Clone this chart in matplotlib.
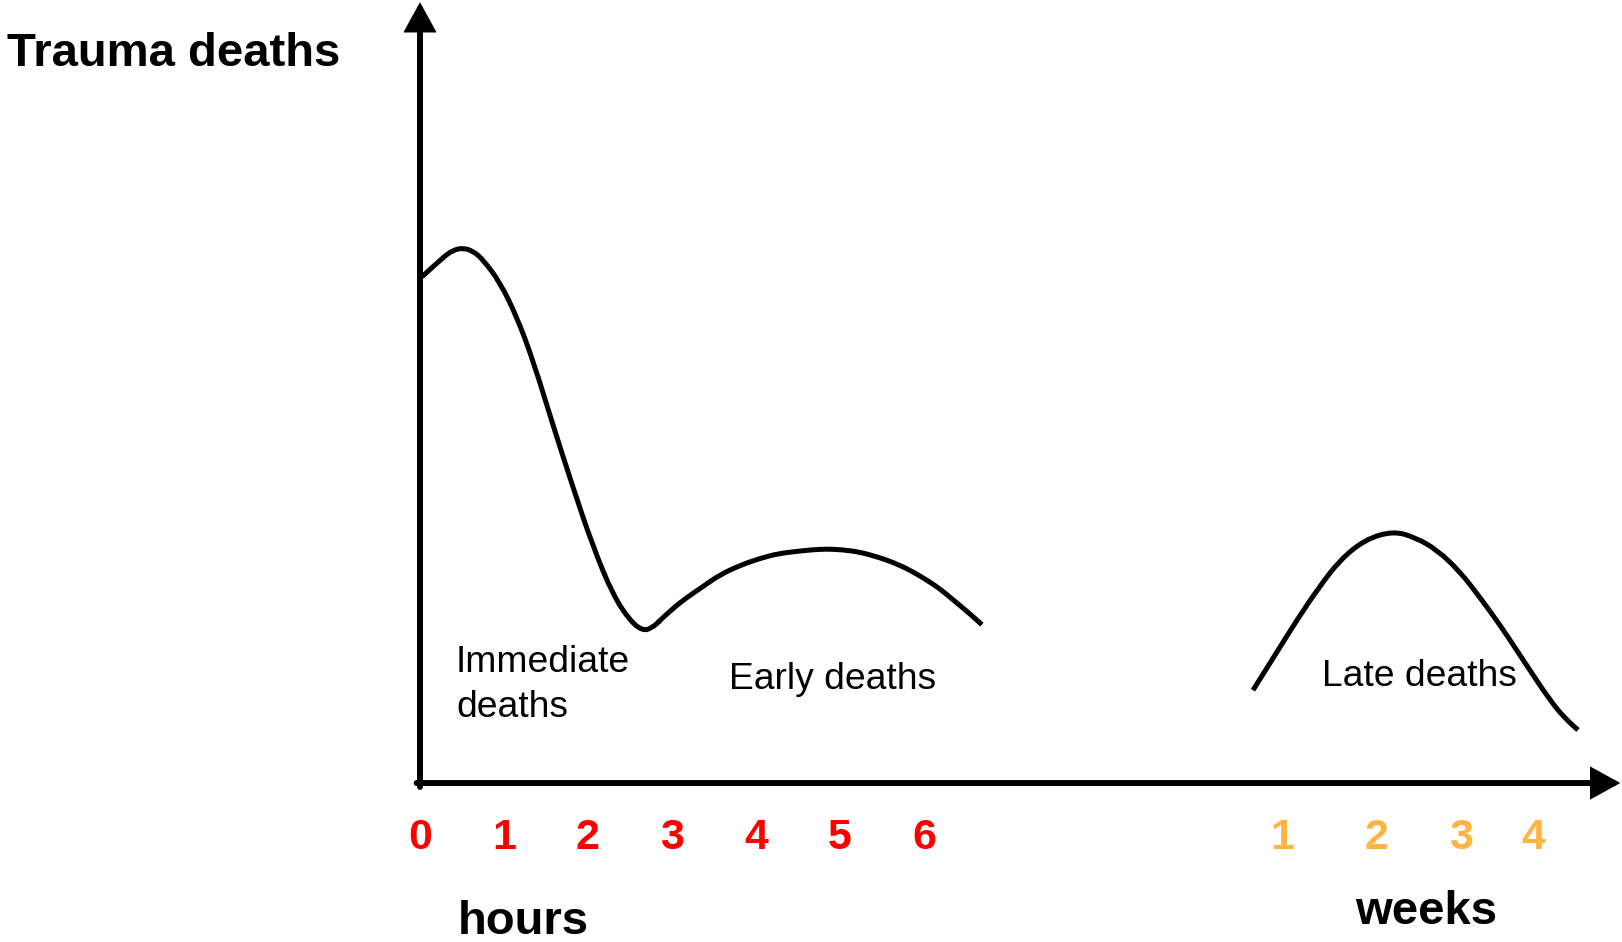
import matplotlib.pyplot as plt
from matplotlib.path import Path
from matplotlib.patches import PathPatch

plt.rcParams['font.family'] = ['Liberation Sans', 'DejaVu Sans']

# schematic x unit = 1 hour on the hours scale, weeks sit further right
hour_ticks = [0, 1, 2, 3, 4, 5, 6]
hour_labels = ['0', '1', '2', '3', '4', '5', '6']
week_ticks = [10.262, 11.393, 12.393, 13.25]
week_labels = ['1', '2', '3', '4']

# immediate deaths (peak shortly after injury)
imm_x = [0.024, 0.274, 0.393, 0.512, 0.631, 0.75, 0.952, 1.155, 1.345, 1.583,
         1.821, 2.06, 2.298, 2.5, 2.655, 2.762, 2.857]
imm_y = [64.9, 67.4, 68.3, 68.6, 68.2, 67.1, 64.2, 59.7, 54.2, 45.9,
         37.9, 30.3, 24.1, 20.8, 19.5, 19.9, 20.8]

# early deaths (hours)
early_x = [2.833, 3.0, 3.179, 3.357, 3.571, 3.810, 4.048, 4.262, 4.488, 4.667,
           4.845, 5.036, 5.238, 5.440, 5.631, 5.833, 6.036, 6.190, 6.345, 6.524, 6.69]
early_y = [20.6, 22.3, 23.8, 25.1, 26.7, 27.9, 28.8, 29.4, 29.7, 29.9,
           30.0, 29.9, 29.6, 29.0, 28.3, 27.3, 26.0, 24.9, 23.5, 21.9, 20.3]

# late deaths (weeks)
late_x = [9.917, 10.179, 10.44, 10.69, 10.952, 11.25, 11.583, 11.845, 12.107,
          12.381, 12.619, 12.881, 13.131, 13.452, 13.631, 13.786]
late_y = [11.9, 16.4, 20.9, 24.9, 28.6, 31.2, 32.3, 31.5, 29.9,
          27.1, 23.8, 19.9, 15.8, 10.6, 8.3, 6.8]


def smooth_curve(xs, ys):
    # quadratic beziers through midpoints so the hand drawn curves look smooth
    pts = list(zip(xs, ys))
    verts = [pts[0]]
    codes = [Path.MOVETO]
    for i in range(1, len(pts) - 1):
        mid = ((pts[i][0] + pts[i + 1][0]) / 2, (pts[i][1] + pts[i + 1][1]) / 2)
        verts += [pts[i], mid]
        codes += [Path.CURVE3, Path.CURVE3]
    verts.append(pts[-1])
    codes.append(Path.LINETO)
    return Path(verts, codes)


fig = plt.figure(figsize=(16.22, 9.42), dpi=100)
ax = fig.add_axes([0, 0, 1, 1])
ax.set_xlim(-5.0, 14.31)
ax.set_ylim(-20.38, 100.38)
ax.axis('off')

# axes drawn as arrows
arrow = dict(arrowstyle='-|>,head_length=0.4,head_width=0.22', lw=4.3, color='black',
             mutation_scale=38, shrinkA=0, shrinkB=0, joinstyle='miter')
ax.annotate('', xy=(0, 100.1), xytext=(0, -0.5), arrowprops=arrow)
ax.annotate('', xy=(14.29, 0), xytext=(-0.04, 0), arrowprops=arrow)

for xs, ys in [(imm_x, imm_y), (early_x, early_y), (late_x, late_y)]:
    ax.add_patch(PathPatch(smooth_curve(xs, ys), fill=False, edgecolor='black',
                           lw=3.6, capstyle='butt', joinstyle='round'))

for x, lab in zip(hour_ticks, hour_labels):
    ax.text(x, -8.46, lab, color='#FF0000', fontsize=31, fontweight='bold',
            ha='center', va='baseline')
for x, lab in zip(week_ticks, week_labels):
    ax.text(x, -8.46, lab, color='#FFB443', fontsize=31, fontweight='bold',
            ha='center', va='baseline')

ax.text(-4.917, 91.9, 'Trauma deaths', fontsize=34, fontweight='bold', ha='left', va='baseline')
ax.text(0.452, -19.36, 'hours', fontsize=34, fontweight='bold', ha='left', va='baseline')
ax.text(11.131, -18.08, 'weeks', fontsize=34, fontweight='bold', ha='left', va='baseline')

ax.text(0.429, 14.23, 'Immediate', fontsize=26.8, ha='left', va='baseline')
ax.text(0.429, 8.46, 'deaths', fontsize=26.8, ha='left', va='baseline')
ax.text(3.679, 12.05, 'Early deaths', fontsize=26.8, ha='left', va='baseline')
ax.text(10.738, 12.44, 'Late deaths', fontsize=26.8, ha='left', va='baseline')

fig.savefig('out.png', dpi=100)
